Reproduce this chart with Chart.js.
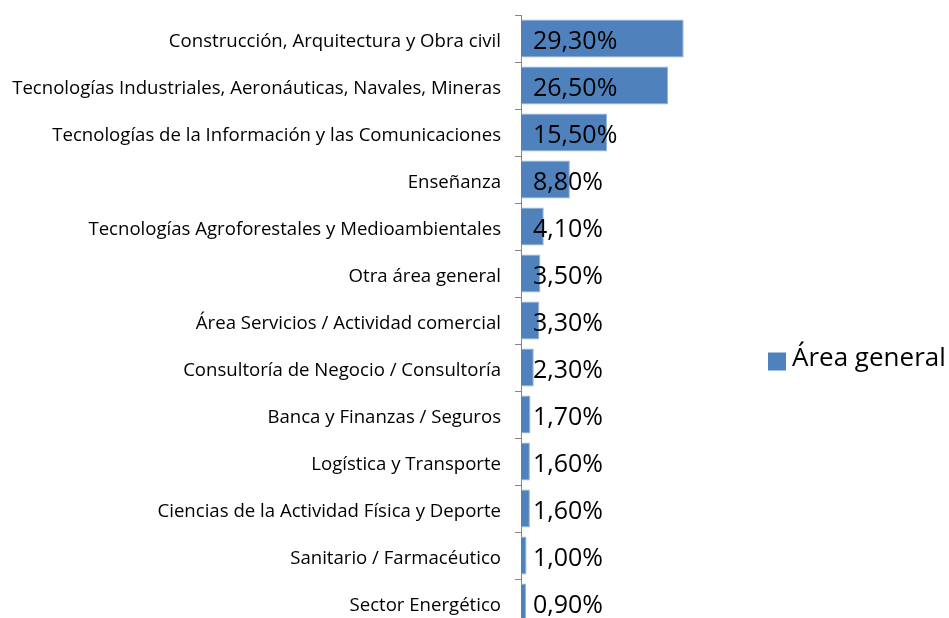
<!DOCTYPE html>
<html>
<head>
<meta charset="utf-8">
<script src="https://cdn.jsdelivr.net/npm/chart.js@4"></script>
<style>
html, body { margin: 0; padding: 0; overflow: hidden; background: #fff; }
#wrap { width: 949px; height: 640px; position: relative; }
</style>
</head>
<body>
<div id="wrap"><canvas id="myChart"></canvas></div>
<script>
var categories = [
	'Construcción, Arquitectura y Obra civil',
	'Tecnologías Industriales, Aeronáuticas, Navales, Mineras',
	'Tecnologías de la Información y las Comunicaciones',
	'Enseñanza',
	'Tecnologías Agroforestales y Medioambientales',
	'Otra área general',
	'Área Servicios / Actividad comercial',
	'Consultoría de Negocio / Consultoría',
	'Banca y Finanzas / Seguros',
	'Logística y Transporte',
	'Ciencias de la Actividad Física y Deporte',
	'Sanitario / Farmacéutico',
	'Sector Energético'
];
var values = [29.3, 26.5, 15.5, 8.8, 4.1, 3.5, 3.3, 2.3, 1.7, 1.6, 1.6, 1.0, 0.9];
var seriesName = 'Área general';

var barColor = '#4F81BD';
var fontFamily = '"Open Sans", sans-serif';

function pct(v) {
	return v.toFixed(2).replace('.', ',') + '%';
}

// etiquetas de valor y leyenda
var labelPlugin = {
	id: 'labels',
	afterDatasetsDraw: function(chart) {
		var ctx = chart.ctx;
		var x0 = chart.scales.x.getPixelForValue(0);
		var yScale = chart.scales.y;
		ctx.save();
		ctx.fillStyle = '#000';
		ctx.font = '25px ' + fontFamily;
		ctx.textAlign = 'left';
		ctx.textBaseline = 'middle';
		values.forEach(function(v, i) {
			ctx.fillText(pct(v), x0 + 12, yScale.getPixelForValue(i) + 3);
		});
		// leyenda
		var area = chart.chartArea;
		var lx = area.right + 26;
		var ly = (area.top + area.bottom) / 2 + 38;
		ctx.fillStyle = barColor;
		ctx.fillRect(lx, ly - 6, 18, 18);
		ctx.fillStyle = '#000';
		ctx.font = '26px ' + fontFamily;
		ctx.fillText(seriesName, lx + 24, ly);
		ctx.restore();
	}
};

new Chart(document.getElementById('myChart'), {
	type: 'bar',
	data: {
		labels: categories,
		datasets: [{
			label: seriesName,
			data: values,
			backgroundColor: barColor,
			borderColor: '#95B3D7',
			borderWidth: 1,
			categoryPercentage: 1,
			barPercentage: 0.81,
		}],
	},
	options: {
		indexAxis: 'y',
		responsive: true,
		maintainAspectRatio: false,
		animation: false,
		layout: {
			padding: { top: 15, bottom: 14, left: 0, right: 207 },
		},
		plugins: {
			legend: { display: false },
			tooltip: { enabled: false },
		},
		scales: {
			x: {
				display: false,
				min: 0,
				max: 39.8,
			},
			y: {
				afterFit: function(scale) {
					scale.width = 521;
					scale.paddingTop = 0;
					scale.paddingBottom = 0;
				},
				grid: {
					offset: true,
					drawOnChartArea: false,
					tickLength: 6,
					color: '#868686',
				},
				border: { color: '#868686', width: 1 },
				ticks: {
					color: '#000',
					padding: 14,
					labelOffset: 3,
					font: { family: fontFamily, size: 18.6 },
				},
			},
		},
	},
	plugins: [labelPlugin],
});
</script>
</body>
</html>
